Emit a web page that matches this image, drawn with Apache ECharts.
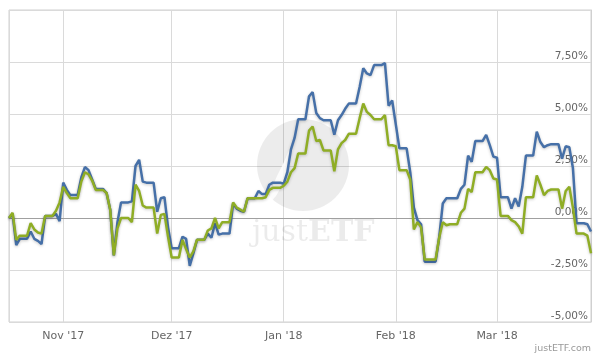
<!DOCTYPE html>
<html><head><meta charset="utf-8">
<script src="https://cdn.jsdelivr.net/npm/echarts@6/dist/echarts.min.js"></script>
<style>html,body{margin:0;padding:0;background:#fff}#c{width:600px;height:360px}</style>
</head><body><div id="c"></div>
<script>
// first day of the series (year, monthIndex, day); one value per calendar day
const startYear = 2017, startMonth = 9, startDay = 17;
const monthNames = ['Jan','Feb','Mar','Apr','Mai','Jun','Jul','Aug','Sep','Okt','Nov','Dez'];
const yTickValues = [-5, -2.5, 0, 2.5, 5, 7.5, 10];

const blueValues = [
  0, 0.2, -1.3, -1.0, -1.0, -1.0, -0.65, -1.0, -1.1, -1.25, 0.1, 0.1, 0.1, 0.2, -0.15,
  1.7, 1.35, 1.1, 1.1, 1.1, 1.95, 2.45, 2.3, 1.85, 1.4, 1.4, 1.4, 1.2, 0.4, -1.8,
  -0.2, 0.75, 0.75, 0.75, 0.8, 2.5, 2.8, 1.75, 1.7, 1.7, 1.7, 0.3, 0.95, 1.0, -0.45,
  -1.45, -1.45, -1.45, -0.9, -1.0, -2.3, -1.7, -1.05, -1.05, -1.05, -0.75, -0.95, -0.25, -0.8, -0.75,
  -0.75, -0.75, 0.7, 0.45, 0.35, 0.3, 0.95, 0.95, 0.95, 1.3, 1.15, 1.15, 1.6, 1.7, 1.7, 1.7,
  1.65, 2.2, 3.3, 3.85, 4.75, 4.75, 4.75, 5.85, 6.05, 5.05, 4.8, 4.7, 4.7, 4.7, 4.0,
  4.7, 4.95, 5.25, 5.5, 5.5, 5.5, 6.3, 7.2, 6.95, 6.87, 7.35, 7.35, 7.35, 7.45, 5.4, 5.65,
  4.5, 3.35, 3.35, 3.35, 2.2, 0.5, -0.1, -0.3, -2.1, -2.1, -2.1, -2.1, -0.95, 0.7,
  0.95, 0.95, 0.95, 0.95, 1.4, 1.6, 3.0, 2.7, 3.7, 3.7, 3.7, 4.0, 3.5, 2.95,
  2.9, 1.0, 1.0, 1.0, 0.45, 0.95, 0.55, 1.5, 3.0, 3.0, 3.0, 4.15, 3.65, 3.4, 3.5,
  3.55, 3.55, 3.55, 2.85, 3.45, 3.4, 2.4, -0.25, -0.25, -0.25, -0.3, -0.65
];
const greenValues = [
  0, 0.25, -1.05, -0.85, -0.85, -0.85, -0.25, -0.55, -0.7, -0.75, 0.1, 0.1, 0.1, 0.35, 0.75,
  1.5, 1.2, 0.95, 0.95, 0.95, 1.75, 2.2, 2.1, 1.8, 1.35, 1.35, 1.35, 1.2, 0.4, -1.8,
  -0.5, 0.0, 0.0, 0.0, -0.2, 1.6, 1.3, 0.6, 0.5, 0.5, 0.5, -0.75, 0.15, 0.2, -0.9,
  -1.9, -1.9, -1.9, -1.05, -1.5, -1.9, -1.6, -1.05, -1.05, -1.05, -0.6, -0.5, 0.0, -0.5, -0.2,
  -0.2, -0.2, 0.75, 0.5, 0.4, 0.3, 0.95, 0.95, 0.95, 0.95, 0.95, 1.0, 1.35, 1.45, 1.45, 1.45,
  1.55, 1.75, 2.2, 2.4, 3.1, 3.1, 3.1, 4.2, 4.4, 3.7, 3.75, 3.25, 3.25, 3.25, 2.25,
  3.3, 3.6, 3.75, 4.05, 4.05, 4.05, 4.8, 5.5, 5.1, 4.95, 4.75, 4.75, 4.75, 4.95, 3.5, 3.5,
  3.45, 2.3, 2.3, 2.3, 1.85, -0.55, -0.2, -0.45, -2.0, -2.0, -2.0, -2.0, -0.95, -0.2,
  -0.35, -0.3, -0.3, -0.3, 0.25, 0.45, 1.4, 1.25, 2.2, 2.2, 2.2, 2.45, 2.3, 1.9,
  1.85, 0.1, 0.1, 0.1, -0.1, -0.2, -0.4, -0.75, 1.0, 1.0, 1.0, 2.05, 1.6, 1.1, 1.3,
  1.37, 1.37, 1.37, 0.45, 1.3, 1.5, 0.5, -0.75, -0.75, -0.75, -0.85, -1.7
];

function dayTime(i) { return new Date(startYear, startMonth, startDay + i).getTime(); }
const blueData = blueValues.map((v, i) => [dayTime(i), v]);
const greenData = greenValues.map((v, i) => [dayTime(i), v]);

const chart = echarts.init(document.getElementById('c'), null, {renderer: 'canvas'});
const font = 'DejaVu Sans, Verdana, sans-serif';
const lineShadow = {shadowColor: 'rgba(0,0,0,0.22)', shadowBlur: 3, shadowOffsetY: 1};

chart.setOption({
  animation: false,
  backgroundColor: '#fff',
  grid: {left: 9, right: 9, top: 10, bottom: 38, show: true, borderColor: '#d0d0d0', borderWidth: 1},
  xAxis: {
    type: 'time',
    min: dayTime(0),
    max: dayTime(blueValues.length - 1),
    splitNumber: 5,
    axisLine: {lineStyle: {color: '#a0a0a0'}},
    axisTick: {show: false},
    splitLine: {show: true, lineStyle: {color: '#dadada'}},
    axisLabel: {
      showMinLabel: false, showMaxLabel: false,
      color: '#666', fontSize: 11, fontFamily: font, margin: 9,
      formatter: function (v) {
        const d = new Date(v);
        return monthNames[d.getMonth()] + " '" + String(d.getFullYear()).slice(2);
      }
    }
  },
  yAxis: {
    type: 'value',
    position: 'right',
    min: yTickValues[0],
    max: yTickValues[yTickValues.length - 1],
    interval: 2.5,
    axisLine: {show: true, lineStyle: {color: '#d0d0d0'}},
    axisTick: {show: false},
    splitLine: {lineStyle: {color: '#dadada'}},
    axisLabel: {
      inside: true, margin: 3, verticalAlign: 'bottom',
      color: '#666', fontSize: 10.5, fontFamily: font,
      formatter: function (v) {
        if (v >= 10) return '';
        return v.toFixed(2).replace('.', ',') + '%';
      }
    }
  },
  graphic: [
    {type: 'group', silent: true, z: 1, children: [
      {type: 'circle', shape: {cx: 303, cy: 165, r: 46}, style: {fill: 'rgba(0,0,0,0.075)'}, z: 1},
      {type: 'polygon', shape: {points: [[289,150],[284,162],[277,176],[271,190],[266,207],[276,196],[284,182],[289,168],[291,158]]},
        style: {fill: '#ffffff', opacity: 0.85}, z: 2},
      {type: 'text', x: 252, y: 218, z: 2,
        style: {text: '{a|just}{b|ETF}', rich: {
          a: {fontFamily: 'DejaVu Serif, Liberation Serif, serif', fontSize: 30, fill: 'rgba(0,0,0,0.08)'},
          b: {fontFamily: 'DejaVu Serif, Liberation Serif, serif', fontSize: 30, fontWeight: 'bold', fill: 'rgba(0,0,0,0.08)'}
        }}}
    ]},
    {type: 'text', right: 9, top: 344, z: 1, silent: true,
      style: {text: 'justETF.com', fontFamily: font, fontSize: 9.5, fill: '#999'}}
  ],
  series: [
    {name: 'Blue', type: 'line', data: blueData, showSymbol: false, symbol: 'none',
      lineStyle: Object.assign({color: '#4670a8', width: 2.5}, lineShadow), itemStyle: {color: '#4670a8'}, z: 3},
    {name: 'Green', type: 'line', data: greenData, showSymbol: false, symbol: 'none',
      lineStyle: Object.assign({color: '#8fad25', width: 2.5}, lineShadow), itemStyle: {color: '#8fad25'}, z: 4}
  ]
});
</script>
</body></html>
